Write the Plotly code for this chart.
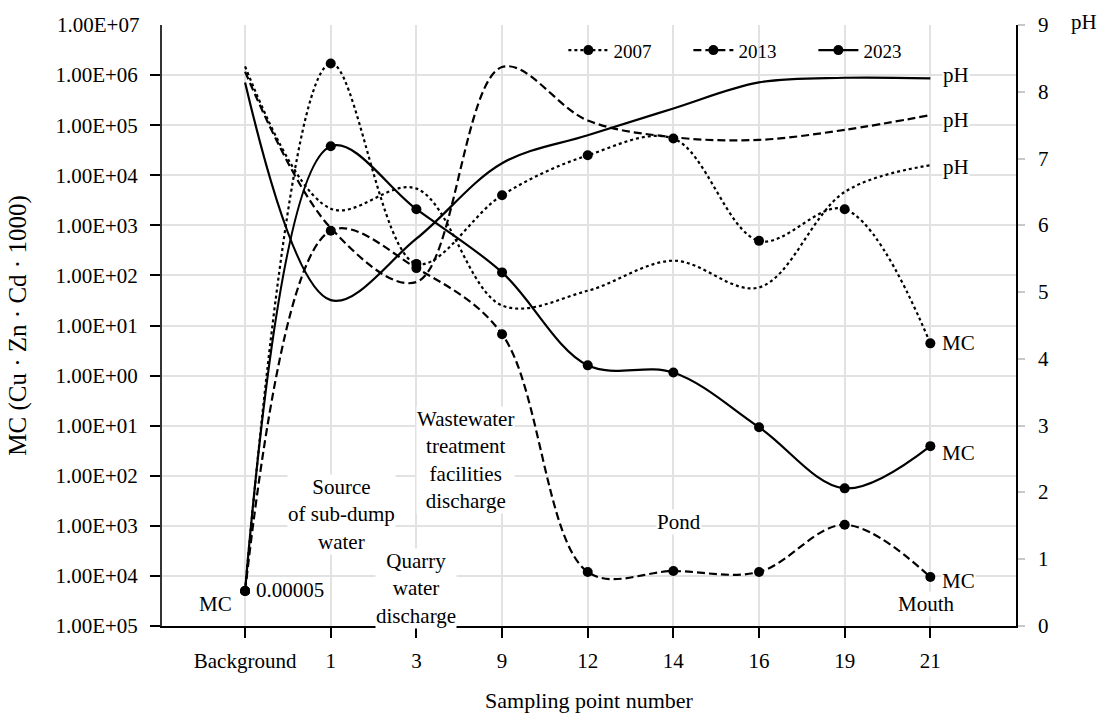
import plotly.graph_objects as go
import math

# ---------------- data ----------------
categories = ["Background", "1", "3", "9", "12", "14", "16", "19", "21"]

mc_2007 = [5e-5, 1.7e6, 1.7e2, 4.0e3, 2.5e4, 5.4e4, 4.9e2, 2.1e3, 4.4]
mc_2013 = [5e-5, 7.8e2, 1.4e2, 6.7, 1.2e-4, 1.25e-4, 1.2e-4, 1.05e-3, 9.5e-5]
mc_2023 = [5e-5, 3.8e4, 2.1e3, 1.15e2, 1.6, 1.15, 0.093, 5.6e-3, 0.039]

ph_2007 = [8.38, 6.25, 6.55, 4.8, 5.02, 5.47, 5.07, 6.5, 6.9]
ph_2013 = [8.3, 5.96, 5.15, 8.37, 7.57, 7.32, 7.28, 7.43, 7.65]
ph_2023 = [8.14, 4.88, 5.8, 6.93, 7.35, 7.75, 8.14, 8.21, 8.2]

mc_tickvals = [1e-5, 1e-4, 1e-3, 1e-2, 1e-1, 1e0, 1e1, 1e2, 1e3, 1e4, 1e5, 1e6]
mc_ticktext = ["1.00E+05", "1.00E+04", "1.00E+03", "1.00E+02", "1.00E+01",
               "1.00E+00", "1.00E+01", "1.00E+02", "1.00E+03", "1.00E+04",
               "1.00E+05", "1.00E+06"]
ph_tickvals = list(range(0, 10))
ph_ticktext = [str(v) for v in ph_tickvals]

years = ["2007", "2013", "2023"]
dashes = ["dot", "8px,4px", "solid"]

FONT = "Liberation Serif, Times New Roman, serif"
FS = 21
x = list(range(len(categories)))

fig = go.Figure()

# pH lines (right axis)
for ph, dash in zip([ph_2007, ph_2013, ph_2023], dashes):
    fig.add_trace(go.Scatter(
        x=x, y=ph, yaxis="y2", mode="lines", showlegend=False,
        line=dict(color="black", width=2.2, dash=dash, shape="spline", smoothing=1),
        hoverinfo="skip"))

# MC lines (left log axis)
for mc, dash, yr in zip([mc_2007, mc_2013, mc_2023], dashes, years):
    fig.add_trace(go.Scatter(
        x=x, y=mc, mode="lines+markers", name=yr,
        line=dict(color="black", width=2.2, dash=dash, shape="spline", smoothing=1),
        marker=dict(color="black", size=10)))

ann = []
def txt(t, xv, yv, xanchor="center", yref="y", size=FS):
    ann.append(dict(text=t, x=xv, y=yv, xref="x", yref=yref, showarrow=False,
                    xanchor=xanchor, yanchor="middle", bgcolor="white", borderpad=0,
                    font=dict(family=FONT, size=size, color="black")))

# labels on the log axis (y as log10 exponent)
txt("MC", -0.35, -4.57)
txt("0.00005", 0.11, -4.28, xanchor="left")
txt("Source<br>of sub-dump<br>water", 1.12, -2.78)
txt("Quarry<br>water<br>discharge", 2.0, -4.26)
txt("Wastewater<br>treatment<br>facilities<br>discharge", 2.57, -1.69)
txt("Pond", 5.06, -2.92)
txt("Mouth", 7.96, -4.57)
for mc, off in [(mc_2007, 0.0), (mc_2023, -0.14), (mc_2013, -0.07)]:
    txt("MC", 8.12, math.log10(mc[-1]) + off, xanchor="left")
# pH labels on right axis
for ph, off in [(ph_2023, 0.05), (ph_2013, -0.07), (ph_2007, -0.02)]:
    txt("pH", 8.14, ph[-1] + off, xanchor="left", yref="y2")

# pH axis tick labels (placed on the y2 scale, further out than plotly's default)
for v, t in zip(ph_tickvals, ph_ticktext):
    ann.append(dict(text=t, x=1, xref="paper", y=v, yref="y2", xanchor="center",
                    xshift=27, yanchor="middle", showarrow=False,
                    font=dict(family=FONT, size=FS, color="black")))

# top label of log axis and the pH axis title
ann.append(dict(text="1.00E+07", x=0, xref="paper", y=1, yref="paper", xanchor="right",
                xshift=-21, yanchor="middle", showarrow=False,
                font=dict(family=FONT, size=FS, color="black")))
ann.append(dict(text="pH", x=1, xref="paper", y=1, yref="paper", xanchor="left",
                xshift=53, yanchor="middle", yshift=3, showarrow=False,
                font=dict(family=FONT, size=FS, color="black")))

fig.update_layout(
    width=1097, height=713,
    margin=dict(l=162, r=81, t=25, b=87),
    paper_bgcolor="white", plot_bgcolor="white",
    font=dict(family=FONT, size=FS, color="black"),
    annotations=ann,
    legend=dict(orientation="h", x=0.47, y=0.958, xanchor="left", yanchor="middle",
                bgcolor="rgba(0,0,0,0)", font=dict(family=FONT, size=19),
                entrywidth=70, entrywidthmode="pixels", itemwidth=40),
    xaxis=dict(range=[-0.97, 9.0], tickmode="array", tickvals=x, ticktext=categories,
               showgrid=True, gridcolor="#e2e2e2", gridwidth=2, zeroline=False,
               showline=True, linecolor="black", linewidth=2, automargin=False,
               ticks="outside", ticklen=10, tickcolor="black", tickwidth=1.5,
               ticklabelstandoff=5,
               tickfont=dict(family=FONT, size=FS),
               title=dict(text="Sampling point number", standoff=28,
                          font=dict(family=FONT, size=22))),
    yaxis=dict(type="log", range=[-5, 7], tickmode="array", tickvals=mc_tickvals,
               ticktext=mc_ticktext, showgrid=True, gridcolor="#e2e2e2", gridwidth=2,
               zeroline=False, showline=True, linecolor="#333", linewidth=2,
               automargin=False,
               ticks="outside", ticklen=10, tickcolor="black", tickwidth=1.5,
               ticklabelstandoff=8,
               tickfont=dict(family=FONT, size=FS),
               title=dict(text="MC (Cu · Zn · Cd · 1000)", standoff=22,
                          font=dict(family=FONT, size=25))),
    yaxis2=dict(overlaying="y", side="right", range=[0, 9], tickmode="array",
                tickvals=ph_tickvals, showticklabels=False,
                showgrid=False, zeroline=False, anchor="x",
                showline=True, linecolor="black", linewidth=2, automargin=False,
                ticks="outside", ticklen=7, tickcolor="#c8c8c8", tickwidth=1.5),
)

fig.write_html("out.html")
